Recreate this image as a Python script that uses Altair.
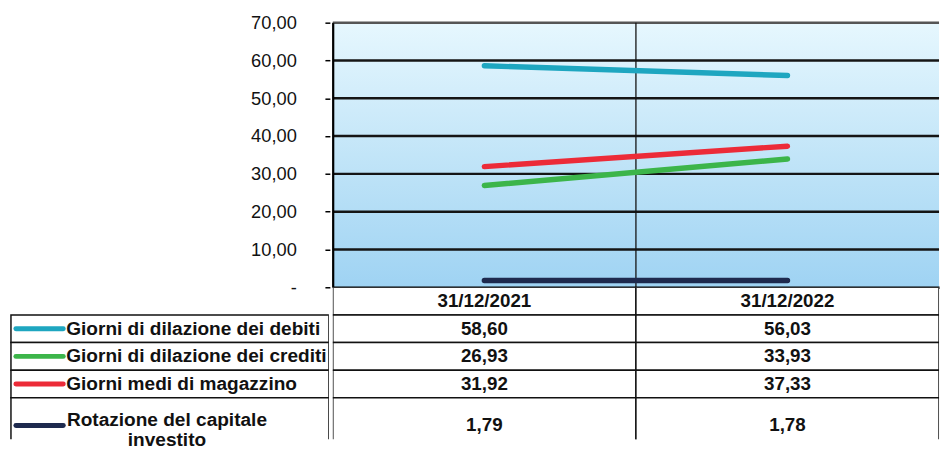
import altair as alt
import pandas as pd

# ---------------- data ----------------
categories = ["31/12/2021", "31/12/2022"]
series = [
    "Giorni di dilazione dei debiti",
    "Giorni di dilazione dei crediti",
    "Giorni medi di magazzino",
    "Rotazione del capitale investito",
]
legend_lines = [
    ["Giorni di dilazione dei debiti"],
    ["Giorni di dilazione dei crediti"],
    ["Giorni medi di magazzino"],
    ["Rotazione del capitale", "investito"],
]
values_2021 = [58.60, 26.93, 31.92, 1.79]
values_2022 = [56.03, 33.93, 37.33, 1.78]
colors = ["#1ea6c0", "#3cb54a", "#ec2b38", "#1e2a4e"]
y_ticks = [0, 10, 20, 30, 40, 50, 60, 70]

FONT = "Liberation Sans, Arial, sans-serif"

# long table for the lines
rows = []
for s, a, b in zip(series, values_2021, values_2022):
    rows.append({"series": s, "cat": categories[0], "value": a})
    rows.append({"series": s, "cat": categories[1], "value": b})
long_df = pd.DataFrame(rows)

# table rows: header + series, height proportional to number of label lines
row_names = ["header"] + series
row_lines = [1] + [len(l) for l in legend_lines]
row_df = pd.DataFrame({"row": row_names, "lines": row_lines})
row_df["end"] = row_df["lines"].cumsum()
row_df["start"] = row_df["end"] - row_df["lines"]
row_df["mid"] = (row_df["start"] + row_df["end"]) / 2
row_df["legend"] = [""] + ["\n".join(l) for l in legend_lines]
row_df["color"] = [""] + series


def fmt(v):
    return f"{v:.2f}".replace(".", ",")


cells = []
for c_i, c in enumerate(categories):
    r = row_df.iloc[0]
    cells.append({"cat": c, "start": r.start, "end": r.end, "mid": r.mid, "label": c})
    vals = values_2021 if c_i == 0 else values_2022
    for i, s in enumerate(series):
        r = row_df.iloc[i + 1]
        cells.append({"cat": c, "start": r.start, "end": r.end, "mid": r.mid, "label": fmt(vals[i])})
cells_df = pd.DataFrame(cells)
legend_df = row_df.iloc[1:].copy()
tick_df = pd.DataFrame({"v": y_ticks})

# ---------------- geometry ----------------
LEFT_W = 323
PLOT_W = 614
PLOT_H = 268
TABLE_H = 154
TABLE_DOMAIN = [0, 5.5]

xscale = alt.Scale(domain=categories, paddingInner=0, paddingOuter=0)
yscale = alt.Scale(domain=[y_ticks[0], y_ticks[-1]], nice=False)
color_scale = alt.Scale(domain=series, range=colors)

# ---------------- plot ----------------
bg_df = pd.DataFrame({"cat": categories})
background = alt.Chart(bg_df).mark_rect(
    color=alt.LinearGradient(
        gradient="linear",
        stops=[
            alt.GradientStop(color="#e6f7fe", offset=0),
            alt.GradientStop(color="#c2e5f8", offset=0.5),
            alt.GradientStop(color="#9fd3f3", offset=1),
        ],
        x1=0, x2=0, y1=0, y2=1,
    )
).encode(
    x=alt.X("cat:N", scale=xscale, sort=categories,
            axis=alt.Axis(labels=False, ticks=False, grid=False, title=None,
                          domainColor="black", domainWidth=2.5, zindex=1,
                          minExtent=0, maxExtent=0)),
    y=alt.value(0),
    y2=alt.value("height"),
)

grid_df = pd.DataFrame({"v": [t for t in y_ticks if t > 0]})
grid = alt.Chart(grid_df).mark_rule(strokeWidth=2.5).encode(
    y=alt.Y("v:Q", scale=yscale,
            axis=alt.Axis(values=y_ticks, labels=False, ticks=False, grid=False, title=None,
                          domainColor="black", domainWidth=2,
                          minExtent=0, maxExtent=1, zindex=1)),
    color=alt.condition("datum.v == 70", alt.value("#555"), alt.value("#151515")),
)

sep = alt.Chart(bg_df).mark_rule(color="#111", strokeWidth=1.3).encode(
    x=alt.X("cat:N", scale=xscale, sort=categories, bandPosition=0),
)

lines = alt.Chart(long_df).mark_line(strokeWidth=5.5, strokeCap="round").encode(
    x=alt.X("cat:N", scale=xscale, sort=categories),
    y=alt.Y("value:Q", scale=yscale),
    color=alt.Color("series:N", scale=color_scale, legend=None),
    detail="series:N",
)

plot = alt.layer(background, grid, sep, lines).properties(width=PLOT_W, height=PLOT_H)

# y-axis ticks and labels, drawn in the empty area left of the plot
label_col = alt.Chart(tick_df).mark_tick(opacity=0).encode(
    y=alt.Y("v:Q", scale=yscale,
            axis=alt.Axis(orient="right", values=y_ticks, offset=-4,
                          labelExpr="datum.value == 0 ? '-' : replace(format(datum.value, '.2f'), '.', ',')",
                          grid=False, ticks=True, tickSize=5, tickWidth=1.5, tickColor="black",
                          domain=False, title=None,
                          labelAlign="right", labelPadding=-34,
                          labelFont=FONT, labelFontSize=18.5, labelColor="#111",
                          labelOverlap=False, labelFlush=False)),
).properties(width=LEFT_W, height=PLOT_H)

# ---------------- table ----------------
tscale = alt.Scale(domain=TABLE_DOMAIN, reverse=True)

vbase = alt.Chart(cells_df).encode(
    x=alt.X("cat:N", scale=xscale, sort=categories, axis=None)
)
vrect = vbase.mark_rect(fill="white", stroke="#111", strokeWidth=1.5, clip=True).encode(
    y=alt.Y("start:Q", scale=tscale, axis=None), y2="end:Q"
)
vtext = vbase.mark_text(font=FONT, fontSize=19, fontWeight="bold", color="#111",
                        baseline="middle").encode(
    y=alt.Y("mid:Q", scale=tscale, axis=None), text="label:N"
)
value_table = alt.layer(vrect, vtext).properties(width=PLOT_W, height=TABLE_H)

lbase = alt.Chart(legend_df)
lrect = lbase.mark_rect(fill="white", stroke="#111", strokeWidth=1.5, clip=True).encode(
    x=alt.value(1), x2=alt.value("width"),
    y=alt.Y("start:Q", scale=tscale, axis=None), y2="end:Q",
)
lswatch = lbase.mark_rule(strokeWidth=5, strokeCap="round").encode(
    x=alt.value(6), x2=alt.value(54),
    y=alt.Y("mid:Q", scale=tscale, axis=None),
    color=alt.Color("color:N", scale=color_scale, legend=None),
)
ltext1 = lbase.transform_filter("datum.lines == 1").mark_text(
    font=FONT, fontSize=19.3, fontWeight="bold", color="#111", align="left",
    baseline="middle").encode(
    x=alt.value(57), y=alt.Y("mid:Q", scale=tscale, axis=None), text="legend:N"
)
ltext2 = lbase.transform_filter("datum.lines > 1").mark_text(
    font=FONT, fontSize=19.3, fontWeight="bold", color="#111", align="center",
    baseline="middle", lineBreak="\n", lineHeight=20, dy=-5).encode(
    x=alt.value(159), y=alt.Y("mid:Q", scale=tscale, axis=None), text="legend:N"
)
legend_table = alt.layer(lrect, lswatch, ltext1, ltext2).properties(width=LEFT_W, height=TABLE_H)

left_col = alt.vconcat(label_col, legend_table, spacing=0, bounds="flush")
right_col = alt.vconcat(plot, value_table, spacing=0, bounds="flush")

chart = alt.hconcat(left_col, right_col, spacing=0).properties(
    padding={"left": 2, "top": 3, "right": 0, "bottom": 0},
    background="white",
).configure_view(strokeWidth=0)

chart.save("out.html", embed_options={"renderer": "svg", "actions": False})
